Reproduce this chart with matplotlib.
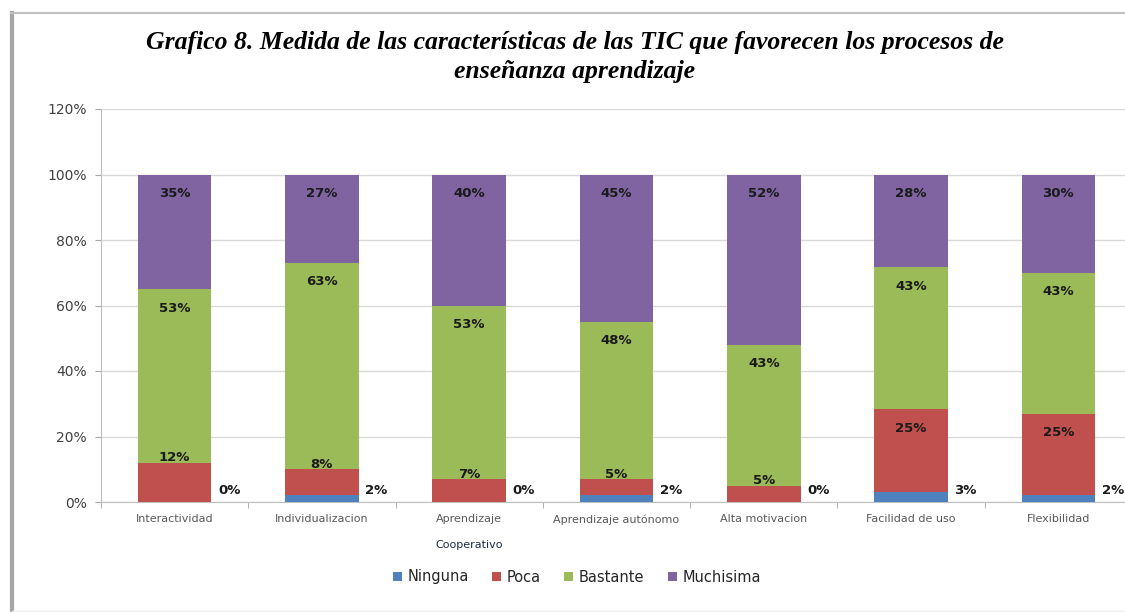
import matplotlib.pyplot as plt
import numpy as np
from matplotlib.lines import Line2D

categorias = ['Interactividad', 'Individualizacion', 'Aprendizaje', 'Aprendizaje autónomo',
              'Alta motivacion', 'Facilidad de uso', 'Flexibilidad']
ninguna = [0, 2, 0, 2, 0, 3, 2]
poca = [12, 8, 7, 5, 5, 25, 25]
bastante = [53, 63, 53, 48, 43, 43, 43]
muchisima = [35, 27, 40, 45, 52, 28, 30]

series = [('Ninguna', ninguna, '#4F81BD'),
          ('Poca', poca, '#C0504D'),
          ('Bastante', bastante, '#9BBB59'),
          ('Muchisima', muchisima, '#8064A2')]

fig = plt.figure(figsize=(11.25, 6.12), dpi=100)
ax = fig.add_axes([101 / 1125, 110 / 612, 1031 / 1125, 393 / 612])

x = np.arange(len(categorias))
totales = np.array(ninguna) + np.array(poca) + np.array(bastante) + np.array(muchisima)
base = np.zeros(len(categorias))
tops = {}
for nombre, vals, color in series:
    h = np.array(vals) / totales
    ax.bar(x, h, bottom=base, width=0.5, color=color, label=nombre, zorder=3)
    base = base + h
    tops[nombre] = base.copy()

lbl = dict(fontsize=9.5, fontweight='bold', color='#1a1a1a', ha='center', va='center', zorder=4)
for i in range(len(categorias)):
    # Ninguna: a la derecha de la barra
    ax.text(x[i] + 0.37, 0.035, f'{ninguna[i]}%', **lbl)
    # Poca
    t = tops['Poca'][i]
    yp = t - 0.058 if poca[i] > 15 else t + 0.015
    ax.text(x[i], yp, f'{poca[i]}%', **lbl)
    # Bastante
    ax.text(x[i], tops['Bastante'][i] - 0.058, f'{bastante[i]}%', **lbl)
    # Muchisima
    ax.text(x[i], tops['Muchisima'][i] - 0.058, f'{muchisima[i]}%', **lbl)

ax.set_xlim(-0.5, len(categorias) - 0.5)
ax.set_ylim(0, 1.2)
ax.set_yticks(np.arange(0, 1.21, 0.2))
ax.set_yticklabels([f'{int(round(v * 100))}%' for v in np.arange(0, 1.21, 0.2)],
                   fontsize=10, color='#404040')
ax.set_xticks(x)
ax.set_xticklabels(categorias, fontsize=8, color='#595959')
ax.set_xticks(np.arange(-0.5, len(categorias), 1), minor=True)
ax.tick_params(axis='x', which='major', length=0, pad=9)
ax.tick_params(axis='x', which='minor', length=4, color='#A6A6A6')
ax.tick_params(axis='y', length=4, color='#A6A6A6', pad=6)
ax.grid(axis='y', color='#D9D9D9', linewidth=1, zorder=0)
for s in ['top', 'right']:
    ax.spines[s].set_visible(False)
for s in ['left', 'bottom']:
    ax.spines[s].set_color('#BFBFBF')

fig.text(469 / 1125, 1 - 545 / 612, 'Cooperativo', fontsize=8, color='#1F2A44',
         ha='center', va='center')

fig.text(575 / 1125, 1 - 57 / 612,
         'Grafico 8. Medida de las características de las TIC que favorecen los procesos de\nenseñanza aprendizaje',
         family='Liberation Serif', fontsize=18.5, fontweight='bold', style='italic',
         ha='center', va='center', linespacing=1.3)

fig.legend(loc='center', bbox_to_anchor=(577 / 1125, 1 - 577 / 612), ncol=4, frameon=False,
           fontsize=10.5, handlelength=0.6, handleheight=0.6, handletextpad=0.4,
           columnspacing=1.6, labelcolor='#262626')

# marco exterior
fig.add_artist(Line2D([12 / 1125, 12 / 1125], [0, 1 - 13 / 612], transform=fig.transFigure,
                      color='#A6A6A6', linewidth=3))
fig.add_artist(Line2D([11 / 1125, 1], [1 - 13 / 612, 1 - 13 / 612], transform=fig.transFigure,
                      color='#BFBFBF', linewidth=1.5))
fig.add_artist(Line2D([12 / 1125, 1], [1 / 612, 1 / 612], transform=fig.transFigure,
                      color='#EEEEEE', linewidth=1))

fig.savefig('out.png', dpi=100)
